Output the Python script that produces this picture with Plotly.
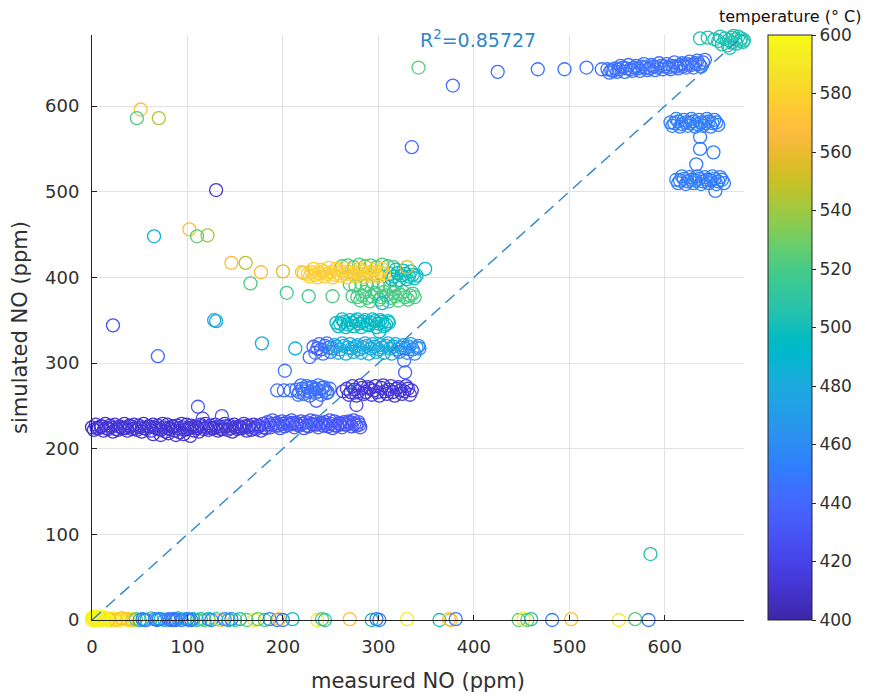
import plotly.graph_objects as go

# ---------------- data (measured NO, simulated NO, temperature) ----------------
# bottom row (simulated ~ 0)
base_x = [0, 1, 2, 3, 4, 5, 6, 7, 8, 9, 10, 12, 14, 16, 18, 20, 22, 24, 26, 28, 30, 32, 35, 38, 41, 44,
          18, 25, 31, 37, 42,
          0.5, 1.5, 2.5, 3.5, 5.5, 6.5, 8.5, 11, 13, 15]
base_y = [0, 2, 1, 3, 0, 1, 2, 0, 1, 3, 0, 1, 2, 0, 1, 0, 2, 1, 0, 1, 0, 2, 1, 0, 1, 0,
          1, 0, 2, 1, 0,
          3, 1, 4, 2, 3, 1, 3, 2, 3, 1]
base_t = [595, 598, 594, 597, 596, 593, 598, 595, 597, 594, 596, 598, 593, 595, 597, 594, 596, 598, 595, 593, 597, 594, 596, 595, 598, 594,
          568, 572, 566, 570, 565,
          596, 594, 597, 595, 598, 593, 596, 594, 597, 595]

mix_x = [46, 50, 53, 57, 62, 66, 68, 72, 76, 80, 84, 87, 90, 94, 98, 102, 106, 110, 114, 118,
         122, 125, 130, 135, 139, 143, 146, 150, 155, 162, 170, 174, 181, 186, 194, 196, 200, 210, 236, 241,
         244, 270, 293, 298, 301, 330, 364, 374, 376, 381, 447, 452, 456, 460, 482, 502, 552, 569, 583,
         55, 70, 82, 85, 88, 100, 104]
mix_y = [1, 0, 1, 0, 2, 1, 0, 1, 0, 1, 0, 1, 2, 0, 1, 0, 1, 0, 1, 0,
         1, 0, 1, 0, 1, 0, 1, 0, 1, 0, 0, 1, 0, 1, 0, 1, 0, 1, 0, 1,
         0, 1, 0, 1, 0, 1, 0, 1, 0, 1, 0, 1, 0, 1, 0, 1, 0, 1, 0,
         0, 1, 0, 1, 0, 1, 0]
mix_t = [522, 500, 450, 485, 520, 455, 445, 495, 480, 450, 445, 455, 480, 450, 500, 448, 485, 515, 500, 525,
         490, 450, 505, 570, 455, 480, 450, 520, 500, 525, 590, 525, 520, 455, 450, 570, 445, 500, 592, 525,
         505, 570, 500, 450, 455, 592, 502, 570, 566, 452, 525, 592, 530, 505, 450, 570, 592, 525, 450,
         447, 452, 446, 450, 444, 452, 448]

# low band (simulated ~ 225)
low_x = [2, 7, 12, 17, 22, 27, 32, 37, 42, 47, 52, 57, 62, 67, 72, 77, 82, 87, 92, 97,
         102, 107, 112, 117, 122, 127, 132, 137, 142, 147, 152, 157, 162, 167, 172, 177, 182,
         187, 192, 197, 202, 207, 212, 217, 222, 227, 232, 237, 242, 247, 252, 257, 262, 267, 272, 277, 281,
         4, 9, 14, 19, 24, 29, 34, 39, 44, 49, 54, 59, 64, 69, 74, 79, 84, 89, 94, 99,
         104, 109, 114, 119, 124, 129, 134, 139, 144, 149, 154, 159, 164, 169, 174, 179,
         184, 189, 194, 199, 204, 209, 214, 219, 224, 229, 234, 239, 244, 249, 254, 259, 264, 269, 274, 279,
         64, 72, 80, 88, 96, 103]
low_y = [222, 224, 221, 223, 220, 222, 224, 221, 223, 222, 220, 223, 221, 224, 222, 220, 223, 221, 219, 222,
         224, 221, 220, 223, 222, 224, 221, 223, 222, 220, 223, 224, 221, 222, 223, 221, 224,
         225, 227, 224, 226, 228, 225, 227, 224, 226, 228, 225, 227, 226, 224, 227, 225, 228, 226, 227, 225,
         228, 226, 229, 227, 228, 226, 229, 227, 228, 227, 229, 226, 228, 227, 229, 228, 226, 227, 229, 228,
         227, 226, 228, 229, 227, 228, 226, 229, 227, 228, 226, 229, 227, 228, 227, 229,
         231, 233, 230, 232, 231, 233, 230, 232, 231, 233, 232, 230, 231, 233, 232, 230, 231, 232, 233, 231,
         217, 216, 218, 216, 217, 215]
low_t = [412, 410, 414, 411, 413, 409, 412, 415, 411, 413, 410, 412, 414, 411, 409, 413, 412, 410, 414, 411,
         413, 410, 412, 415, 411, 413, 409, 412, 414, 411, 413, 410, 412, 416, 418, 420, 422,
         428, 432, 430, 434, 429, 431, 433, 430, 428, 432, 431, 429, 433, 430, 428, 432, 431, 429, 430, 432,
         411, 413, 410, 412, 414, 411, 413, 410, 412, 415, 411, 413, 410, 412, 414, 411, 409, 412, 413, 411,
         414, 410, 412, 413, 411, 415, 412, 410, 413, 411, 412, 414, 411, 416, 419, 424,
         430, 433, 429, 431, 434, 430, 432, 429, 431, 433, 430, 432, 429, 431, 433, 430, 432, 431, 429, 432,
         412, 414, 411, 413, 412, 415]

low_mid_x = [0, 5, 10, 15, 20, 25, 30, 35, 40, 45, 50, 55, 60, 65, 70, 75, 80, 85, 90, 95,
             100, 105, 110, 115, 120, 125, 130, 135, 140, 145, 150, 155, 160, 165, 170, 175, 180,
             185, 190, 195, 200, 205, 210, 215, 220, 225, 230, 235, 240, 245, 250, 255, 260, 265, 270, 275, 280]
low_mid_y = [225, 224, 226, 224, 225, 223, 225, 224, 226, 224, 225, 224, 226, 225, 223, 225, 224, 226, 224, 225,
             223, 225, 224, 226, 225, 224, 225, 223, 226, 224, 225, 224, 226, 225, 224, 226, 225,
             228, 229, 227, 229, 228, 230, 228, 229, 227, 229, 228, 230, 228, 229, 227, 229, 228, 230, 229, 228]
low_mid_t = [411, 413, 410, 412, 414, 411, 413, 410, 412, 414, 411, 413, 410, 412, 414, 411, 413, 410, 412, 414,
             411, 413, 410, 412, 414, 411, 413, 410, 412, 414, 411, 413, 415, 417, 419, 421, 423,
             429, 431, 433, 430, 432, 429, 431, 433, 430, 432, 429, 431, 433, 430, 432, 429, 431, 433, 430, 431]

# band ~ 268 (blue part and indigo part)
b268_x = [194, 201, 208, 214, 217, 220, 223, 226, 229, 232, 235, 238, 241, 244, 247, 249,
          216, 219, 222, 225, 228, 231, 234, 237, 240, 243, 246]
b268_y = [268, 268, 268, 269, 266, 270, 267, 271, 266, 269, 270, 267, 271, 268, 266, 270,
          263, 274, 264, 273, 262, 272, 265, 274, 263, 272, 265]
b268_t = [444, 446, 443, 447, 445, 444, 448, 446, 443, 445, 447, 444, 446, 445, 443, 447,
          445, 444, 446, 447, 443, 445, 444, 446, 448, 445, 443]

i268_x = [263, 267, 271, 275, 279, 283, 287, 291, 295, 299, 303, 307, 311, 315, 319, 323, 327, 331, 335,
          269, 273, 277, 281, 285, 289, 293, 297, 301, 305, 309, 313, 317, 321, 325, 329, 333]
i268_y = [267, 270, 266, 269, 267, 271, 266, 270, 268, 266, 271, 267, 269, 266, 270, 268, 267, 270, 268,
          263, 273, 262, 274, 264, 272, 263, 273, 262, 274, 264, 273, 262, 272, 264, 273, 263]
i268_t = [420, 416, 414, 412, 415, 413, 411, 414, 412, 416, 413, 411, 414, 412, 415, 413, 411, 414, 412,
          413, 415, 412, 414, 411, 413, 415, 412, 414, 411, 413, 416, 412, 414, 411, 413, 415]

# band ~ 315
c315_x = [232, 236, 240, 244, 248, 252, 256, 260, 264, 268, 272, 276, 280, 284, 288, 292, 296, 300, 304, 308,
          312, 316, 320, 324, 328, 332, 336, 340, 343,
          234, 238, 242, 246, 250, 254, 258, 262, 266, 270, 274, 278, 282, 286, 290, 294, 298, 302, 306, 310,
          314, 318, 322, 326, 330, 334, 338, 342]
c315_y = [319, 317, 316, 320, 318, 317, 319, 316, 320, 318, 317, 319, 316, 318, 320, 317, 319, 316, 318, 320,
          317, 319, 316, 318, 317, 319, 316, 318, 317,
          312, 322, 311, 323, 313, 321, 312, 323, 311, 322, 313, 321, 312, 323, 311, 322, 313, 321, 312, 323,
          311, 322, 313, 321, 312, 322, 311, 320]
c315_t = [440, 436, 432, 442, 445, 470, 478, 482, 480, 485, 479, 483, 481, 477, 484, 480, 482, 478, 485, 481,
          479, 483, 480, 462, 455, 465, 458, 470, 460,
          443, 438, 445, 447, 450, 476, 481, 479, 484, 480, 478, 483, 481, 477, 485, 480, 482, 479, 484, 481,
          478, 482, 458, 464, 456, 468, 460, 455]

# band ~ 347 (teal)
t347_x = [256, 260, 264, 268, 272, 276, 280, 284, 288, 292, 296, 300, 304, 308, 311,
          258, 262, 266, 270, 274, 278, 282, 286, 290, 294, 298, 302, 306, 310]
t347_y = [347, 346, 348, 345, 347, 349, 346, 348, 345, 347, 349, 346, 348, 345, 347,
          343, 351, 342, 350, 343, 351, 342, 350, 344, 351, 342, 350, 343, 349]
t347_t = [494, 496, 493, 497, 495, 492, 496, 494, 497, 493, 495, 496, 494, 492, 496,
          495, 493, 497, 494, 496, 492, 495, 497, 494, 493, 496, 495, 494, 497]

# green rows ~ 392 / ~ 413 / ~ 378
g392_x = [270, 276, 282, 288, 294, 300, 306, 312, 318]
g392_y = [392, 390, 393, 391, 394, 390, 392, 389, 391]
g392_t = [521, 518, 523, 520, 517, 522, 519, 521, 516]

g413_x = [262, 268, 274, 280, 286, 292, 298, 304, 310, 316]
g413_y = [413, 414, 412, 415, 413, 414, 412, 415, 413, 412]
g413_t = [522, 518, 525, 520, 523, 519, 524, 521, 518, 522]

g378_x = [204, 227, 252, 273, 278, 283, 288, 293, 298, 303, 308, 313, 318, 323, 328, 333, 338,
          281, 286, 291, 296, 301, 306, 311, 316, 321, 326, 331, 336]
g378_y = [382, 378, 378, 378, 377, 379, 376, 378, 380, 377, 379, 376, 378, 380, 377, 379, 377,
          373, 383, 372, 382, 374, 383, 372, 382, 373, 383, 374, 381]
g378_t = [518, 520, 522, 520, 519, 521, 523, 518, 520, 522, 519, 521, 523, 520, 518, 522, 520,
          521, 519, 523, 520, 518, 522, 521, 519, 523, 520, 522, 519]

# teal at right end of the ~ 405 band
t405_x = [312, 316, 320, 324, 328, 332, 336, 340, 314, 318, 322, 326, 330, 334, 338]
t405_y = [404, 401, 405, 402, 404, 401, 403, 402, 398, 409, 397, 408, 398, 407, 399]
t405_t = [497, 500, 496, 499, 501, 497, 499, 500, 498, 496, 500, 497, 499, 501, 498]

# yellow band ~ 405
y405_x = [222, 226, 230, 234, 238, 242, 246, 250, 254, 258, 262, 266, 270, 274, 278, 282, 286, 290, 294, 298, 302, 306,
          228, 232, 236, 240, 244, 248, 252, 256, 260, 264, 268, 272, 276, 280, 284, 288, 292, 296, 300, 304]
y405_y = [405, 404, 406, 403, 405, 407, 404, 406, 403, 405, 407, 404, 406, 403, 405, 407, 404, 406, 405, 403, 406, 404,
          401, 410, 400, 409, 401, 411, 400, 410, 402, 411, 400, 409, 401, 410, 400, 411, 402, 409, 401, 410]
y405_t = [576, 578, 575, 579, 577, 574, 578, 576, 579, 575, 577, 578, 574, 576, 579, 577, 575, 578, 576, 574, 577, 579,
          578, 575, 577, 579, 574, 576, 578, 575, 577, 579, 576, 574, 578, 577, 575, 579, 576, 578, 574, 577]

# scattered single points
single_x = [146, 161, 177, 166, 200, 220, 330, 349, 51, 47, 70, 130, 65, 102, 110, 121, 22, 130, 342, 335,
            378, 69, 111, 116, 136, 235, 277, 202, 228, 327, 328, 128, 178, 213, 301, 304, 585]
single_y = [417, 417, 406, 393, 407, 406, 412, 410, 596, 586, 586, 502, 448, 456, 448, 449, 344, 349, 645, 552,
            624, 308, 249, 235, 238, 256, 251, 291, 307, 303, 289, 350, 323, 317, 337, 370, 77]
single_t = [567, 545, 567, 522, 555, 570, 555, 490, 568, 522, 545, 412, 485, 568, 525, 542, 428, 480, 525, 443,
            443, 440, 432, 428, 432, 440, 425, 445, 440, 445, 435, 478, 480, 482, 490, 482, 505]

# top band ~ 645
b645_x = [425, 467, 495, 518, 534,
          540, 544, 548, 552, 556, 560, 564, 568, 572, 576, 580, 584, 588, 592, 596, 600, 604, 608, 612, 616,
          620, 624, 628, 632, 636, 640,
          542, 546, 550, 554, 558, 562, 566, 570, 574, 578, 582, 586, 590, 594, 598, 602, 606, 610, 614, 618,
          622, 626, 630, 634, 638, 642]
b645_y = [640, 643, 643, 645, 643,
          643, 642, 644, 643, 645, 644, 643, 645, 644, 646, 645, 644, 646, 645, 647, 646, 645, 647, 646, 648,
          647, 649, 648, 650, 649, 651,
          639, 641, 640, 647, 640, 648, 641, 647, 641, 649, 642, 648, 642, 650, 643, 649, 643, 651, 644, 650,
          645, 652, 645, 653, 646, 654]
b645_t = [445, 444, 446, 445, 444,
          446, 444, 447, 445, 443, 446, 444, 447, 445, 443, 446, 444, 447, 445, 443, 446, 444, 447, 445, 443,
          446, 444, 447, 445, 443, 446,
          444, 447, 445, 443, 446, 444, 447, 445, 443, 446, 444, 447, 445, 443, 446, 444, 447, 445, 443, 446,
          444, 447, 445, 443, 446, 444]

# top-right teal cluster
t680_x = [637, 645, 652, 658, 663, 667, 671, 674, 677, 680, 683, 660, 666, 670, 675, 679, 682, 668, 656, 672]
t680_y = [679, 680, 678, 681, 679, 677, 680, 678, 681, 679, 677, 672, 671, 674, 673, 676, 675, 668, 676, 682]
t680_t = [505, 503, 506, 504, 502, 505, 503, 506, 504, 502, 505, 503, 504, 506, 502, 505, 503, 504, 503, 505]

# right clusters ~ 580 and ~ 514
b580_x = [606, 610, 614, 618, 622, 626, 630, 634, 638, 642, 646, 650, 654,
          608, 612, 616, 620, 624, 628, 632, 636, 640, 644, 648, 652, 656,
          637, 637, 651, 633]
b580_y = [581, 580, 582, 579, 581, 580, 582, 579, 581, 580, 582, 580, 581,
          577, 585, 576, 584, 577, 585, 576, 584, 577, 585, 576, 584, 578,
          564, 550, 546, 532]
b580_t = [452, 450, 453, 451, 454, 452, 450, 453, 451, 452, 454, 450, 452,
          451, 453, 450, 452, 454, 451, 453, 450, 452, 451, 453, 450, 452,
          452, 451, 453, 450]

b514_x = [612, 616, 620, 624, 628, 632, 636, 640, 644, 648, 652, 656, 660,
          614, 618, 622, 626, 630, 634, 638, 642, 646, 650, 654, 658, 662, 653]
b514_y = [514, 513, 515, 512, 514, 513, 515, 512, 514, 513, 515, 512, 514,
          510, 518, 509, 517, 510, 518, 509, 517, 510, 518, 509, 517, 510, 501]
b514_t = [452, 450, 453, 451, 454, 452, 450, 453, 451, 452, 454, 450, 452,
          451, 453, 450, 452, 454, 451, 453, 450, 452, 451, 453, 450, 452, 451]

r2_text = "R<sup>2</sup>=0.85727"
x_ticks = [0, 100, 200, 300, 400, 500, 600]
y_ticks = [0, 100, 200, 300, 400, 500, 600]
cb_ticks = [400, 420, 440, 460, 480, 500, 520, 540, 560, 580, 600]

# ---------------- parula colormap ----------------
parula = [
    (0.2422, 0.1504, 0.6603), (0.2504, 0.1650, 0.7076), (0.2578, 0.1818, 0.7511), (0.2647, 0.1978, 0.7952),
    (0.2706, 0.2147, 0.8364), (0.2751, 0.2342, 0.8710), (0.2783, 0.2559, 0.8991), (0.2803, 0.2782, 0.9221),
    (0.2813, 0.3006, 0.9414), (0.2810, 0.3228, 0.9579), (0.2795, 0.3447, 0.9717), (0.2760, 0.3667, 0.9829),
    (0.2699, 0.3892, 0.9906), (0.2602, 0.4123, 0.9952), (0.2440, 0.4358, 0.9988), (0.2206, 0.4603, 0.9973),
    (0.1963, 0.4847, 0.9892), (0.1834, 0.5074, 0.9798), (0.1786, 0.5289, 0.9682), (0.1764, 0.5499, 0.9520),
    (0.1687, 0.5703, 0.9359), (0.1540, 0.5902, 0.9218), (0.1460, 0.6091, 0.9079), (0.1380, 0.6276, 0.8973),
    (0.1248, 0.6459, 0.8883), (0.1113, 0.6635, 0.8763), (0.0952, 0.6798, 0.8598), (0.0689, 0.6948, 0.8394),
    (0.0297, 0.7082, 0.8163), (0.0036, 0.7203, 0.7917), (0.0067, 0.7312, 0.7660), (0.0433, 0.7411, 0.7394),
    (0.0964, 0.7500, 0.7120), (0.1408, 0.7584, 0.6842), (0.1717, 0.7670, 0.6554), (0.1938, 0.7758, 0.6251),
    (0.2161, 0.7843, 0.5923), (0.2470, 0.7918, 0.5567), (0.2906, 0.7973, 0.5188), (0.3406, 0.8008, 0.4789),
    (0.3909, 0.8029, 0.4354), (0.4456, 0.8024, 0.3909), (0.5044, 0.7993, 0.3480), (0.5616, 0.7942, 0.3045),
    (0.6174, 0.7876, 0.2612), (0.6720, 0.7793, 0.2227), (0.7242, 0.7698, 0.1910), (0.7738, 0.7598, 0.1646),
    (0.8203, 0.7498, 0.1535), (0.8634, 0.7406, 0.1596), (0.9035, 0.7330, 0.1774), (0.9393, 0.7288, 0.2100),
    (0.9728, 0.7298, 0.2394), (0.9956, 0.7434, 0.2371), (0.9970, 0.7659, 0.2199), (0.9952, 0.7893, 0.2028),
    (0.9892, 0.8136, 0.1885), (0.9786, 0.8386, 0.1766), (0.9676, 0.8639, 0.1643), (0.9610, 0.8890, 0.1537),
    (0.9597, 0.9135, 0.1423), (0.9628, 0.9373, 0.1265), (0.9691, 0.9606, 0.1064), (0.9769, 0.9839, 0.0805),
]
n = len(parula)
colorscale = [[i / (n - 1), "rgb(%d,%d,%d)" % (round(r * 255), round(g * 255), round(b * 255))]
              for i, (r, g, b) in enumerate(parula)]

groups = [
    (base_x, base_y, base_t), (mix_x, mix_y, mix_t), (low_x, low_y, low_t), (low_mid_x, low_mid_y, low_mid_t),
    (b268_x, b268_y, b268_t), (i268_x, i268_y, i268_t), (c315_x, c315_y, c315_t),
    (t347_x, t347_y, t347_t), (g392_x, g392_y, g392_t), (g413_x, g413_y, g413_t),
    (g378_x, g378_y, g378_t), (t405_x, t405_y, t405_t), (y405_x, y405_y, y405_t),
    (single_x, single_y, single_t), (b645_x, b645_y, b645_t), (t680_x, t680_y, t680_t),
    (b580_x, b580_y, b580_t), (b514_x, b514_y, b514_t),
]
xs, ys, ts = [], [], []
for gx, gy, gt in groups:
    assert len(gx) == len(gy) == len(gt), (len(gx), len(gy), len(gt))
    xs += gx
    ys += gy
    ts += gt

FONT = "DejaVu Sans"
TXT = "#303030"
AX = "#262626"
LINE_BLUE = "#2F86C8"

XMAX = 683
YMAX = 683

fig = go.Figure()
fig.add_trace(go.Scatter(
    x=xs, y=ys, mode="markers", cliponaxis=False, showlegend=False,
    marker=dict(symbol="circle-open", size=13, color=ts, colorscale=colorscale,
                cmin=400, cmax=600, line=dict(width=1.3),
                colorbar=dict(x=1.0368, xanchor="left", xpad=0, y=0.5, yanchor="middle", len=1, lenmode="fraction",
                              ypad=0, thickness=44, thicknessmode="pixels",
                              outlinecolor=AX, outlinewidth=1,
                              tickvals=cb_ticks, ticktext=[str(v) for v in cb_ticks],
                              ticks="outside", ticklen=4, tickcolor=AX,
                              tickfont=dict(family=FONT, size=17, color=TXT))),
))
fig.add_trace(go.Scatter(
    x=[0, XMAX], y=[0, YMAX], mode="lines", showlegend=False, cliponaxis=True,
    line=dict(color=LINE_BLUE, width=1.4, dash="12px,7px"),
))

axis_common = dict(
    showline=True, linecolor=AX, linewidth=1, mirror=False,
    ticks="inside", ticklen=5, tickcolor=AX, tickwidth=1,
    showgrid=True, gridcolor="#E2E2E2", gridwidth=1, zeroline=False,
    tickfont=dict(family=FONT, size=18, color=TXT),
    automargin=False,
)
# the page body adds an 8px offset, so the figure is 8px smaller on each side
fig.update_layout(
    width=865, height=689, autosize=False,
    margin=dict(l=84, r=129, t=27, b=77, autoexpand=False),
    paper_bgcolor="white", plot_bgcolor="white",
    font=dict(family=FONT, color=TXT),
    xaxis=dict(range=[0, XMAX], tickvals=x_ticks, ticklabelstandoff=10,
               title=dict(text="measured NO (ppm)", font=dict(family=FONT, size=21, color=TXT), standoff=17),
               **axis_common),
    yaxis=dict(range=[0, YMAX], tickvals=y_ticks, ticklabelstandoff=8,
               title=dict(text="simulated NO (ppm)", font=dict(family=FONT, size=21, color=TXT), standoff=11),
               **axis_common),
    annotations=[
        dict(text=r2_text, xref="x", yref="paper", x=404, y=0.993, xanchor="center", yanchor="middle",
             showarrow=False, font=dict(family=FONT, size=19, color=LINE_BLUE)),
        dict(text="temperature (° C)", xref="paper", yref="paper", x=1.0706, y=1.0308,
             xanchor="center", yanchor="middle", showarrow=False, borderpad=0,
             font=dict(family=FONT, size=16, color="#111111")),
    ],
)

fig.write_html("out.html")
